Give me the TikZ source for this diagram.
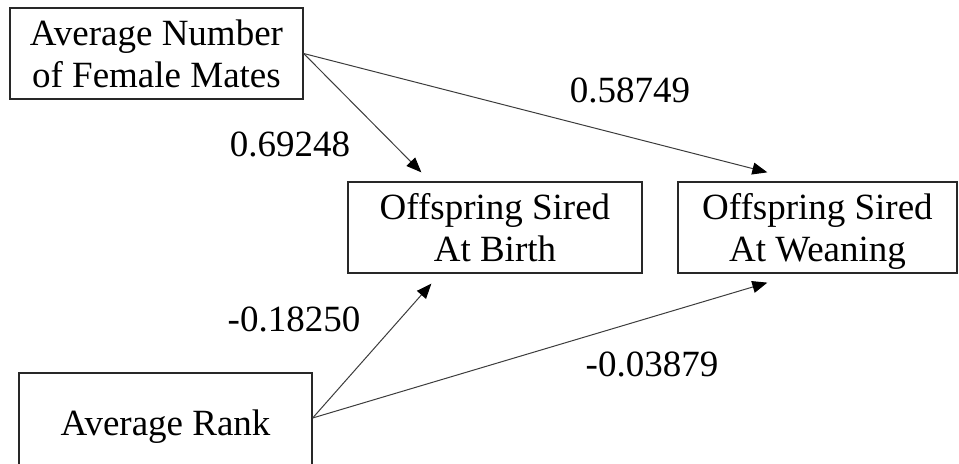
\documentclass[tikz,border=0pt]{standalone}
\usepackage{fontspec}
\setmainfont{Liberation Serif}
\usetikzlibrary{arrows.meta, positioning}
\definecolor{linegray}{RGB}{60, 60, 60}
\definecolor{boxgray}{RGB}{40, 40, 40}

\begin{document}
\begin{tikzpicture}[x=0.5pt, y=-0.5pt,
  box/.style={draw=boxgray, line width=0.65pt, minimum width=146.5pt, minimum height=45.5pt, inner sep=0pt, text depth=0pt, align=center, font=\fontsize{18.5}{20.75}\selectfont},
  coef/.style={anchor=base, inner sep=0pt, font=\fontsize{18.5}{20.75}\selectfont},
  link/.style={draw=linegray, line width=0.5pt, -{Triangle[length=7.5pt, width=6pt, color=black]}}]
  \useasboundingbox (0,0) rectangle (959,464);

  % Variables
  \node[box] (mates) at (156.5, 53.5) {Average Number\\of Female Mates};
  \node[box, minimum width=147pt] (birth) at (495, 227.5) {Offspring Sired\\At Birth};
  \node[box, minimum width=139.5pt] (wean) at (817.5, 227.5) {Offspring Sired\\At Weaning};
  % runs off the bottom of the page
  \node[box, minimum height=50pt] (rank) at (165.5, 423) {Average Rank};

  % Arrow tips, just off the boxes
  \coordinate (birthin) at ([shift={(74,-9)}]birth.north west);
  \coordinate (weanin) at ([shift={(90,-9)}]wean.north west);
  \coordinate (birthup) at ([shift={(84,10)}]birth.south west);
  \coordinate (weanup) at ([shift={(90,9)}]wean.south west);
  \coordinate (rankout) at ([shift={(0,-5)}]rank.east);

  % Paths
  \draw[link] (mates.east) -- (birthin);
  \draw[link] (mates.east) -- (weanin);
  \draw[link] (rankout) -- (birthup);
  \draw[link] (rankout) -- (weanup);

  % Coefficients
  \node[coef] (cmb) at (290, 157) {0.69248};
  \node[coef] (cmw) at (630, 103) {0.58749};
  \node[coef] (crb) at (294, 332) {-0.18250};
  \node[coef] (crw) at (652, 377) {-0.03879};
\end{tikzpicture}
\end{document}
